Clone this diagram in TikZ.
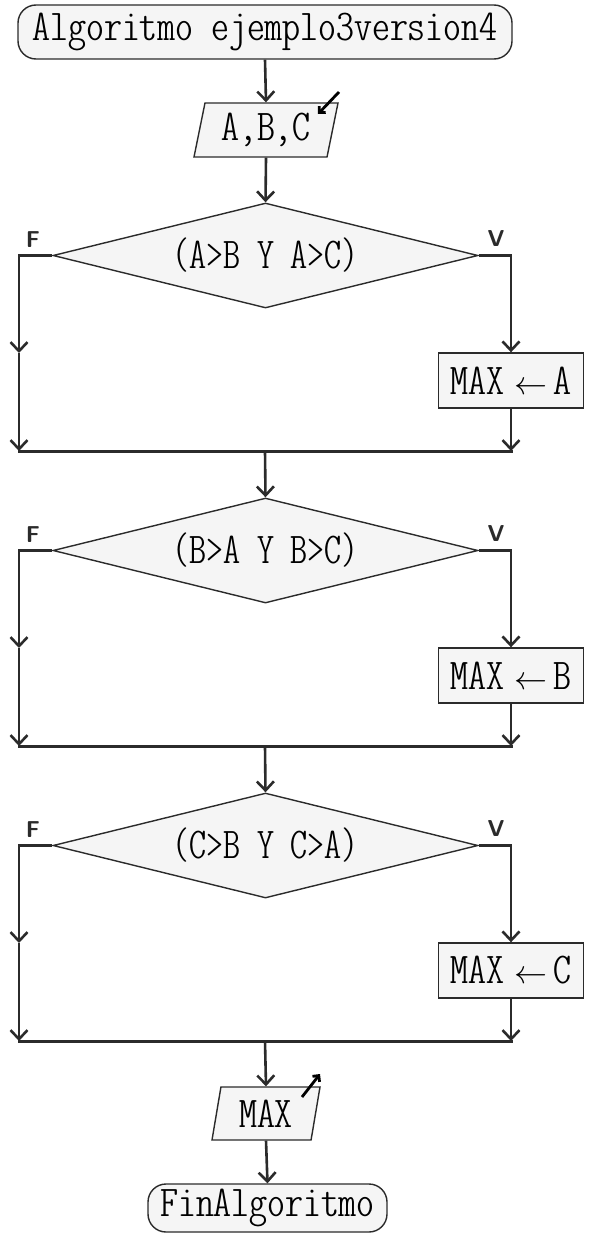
\documentclass[tikz,border=0pt]{standalone}
\usepackage{graphicx}
\usetikzlibrary{arrows.meta,shapes.geometric}
\definecolor{lncol}{HTML}{2B2B2B}
\definecolor{flcol}{HTML}{F5F5F5}
\newcommand{\sxa}[1]{\scalebox{1.16}[1]{#1}}
\newcommand{\sxb}[1]{\scalebox{1.10}[1]{#1}}
\newcommand{\larr}{\resizebox{33pt}{!}{$\leftarrow$}}
\begin{document}
\begin{tikzpicture}[x=1pt,y=-1pt,
  txt/.style={font=\ttfamily\fontseries{lc}\fontsize{44}{50}\selectfont, text=black},
  term/.style={txt, draw=lncol, fill=flcol, line width=1.4pt, rounded corners=18pt, inner sep=0pt},
  io/.style={txt, draw=lncol, fill=flcol, line width=1.4pt, trapezium, trapezium left angle=72, trapezium right angle=108, trapezium stretches body, inner sep=0pt},
  dec/.style={txt, draw=lncol, fill=flcol, line width=1.4pt, diamond, aspect=4, minimum width=425pt, minimum height=105pt, inner sep=0pt},
  proc/.style={txt, draw=lncol, fill=flcol, line width=1.4pt, rectangle, minimum width=145pt, minimum height=55pt, inner sep=0pt},
  lab/.style={font=\sffamily\bfseries\fontsize{23}{27}\selectfont, text=lncol, inner sep=0pt},
  arr/.style={draw=lncol, line width=2.6pt, -{Straight Barb[length=9pt,width=17pt]}},
  merge/.style={draw=lncol, line width=3pt, line cap=rect},
  ioarr/.style={draw=black, line width=2.8pt, -{Straight Barb[length=4.5pt,width=9pt]}}
]
\useasboundingbox (0,0) rectangle (590,1236);

\node[term, minimum width=494pt, minimum height=54pt] (start) at (265,32) {\sxa{Algoritmo ejemplo3version4}};
\node[io, minimum width=144pt, minimum height=54pt] (abc) at (266,130) {\sxa{A,B,C}};
\coordinate (inA) at (339,92);
\coordinate (inB) at (318,114);
\draw[ioarr] (inA) -- (inB);
\draw[arr] (start.south) -- (abc.north);

\foreach \k/\cond/\var [evaluate=\k as \dy using 295*(\k-1)] in {1/{(A>B Y A>C)}/A, 2/{(B>A Y B>C)}/B, 3/{(C>B Y C>A)}/C} {
  \node[dec] (d\k) at (265.5,{255.5+\dy}) {\sxb{\cond}};
  \node[proc] (p\k) at (511,{380.5+\dy}) {\sxa{MAX}\hskip10pt\larr\hskip6pt\sxa{\var}};
  \coordinate (lt\k) at (19,{255.5+\dy});
  \coordinate (lm\k) at (19,{353+\dy});
  \coordinate (lb\k) at (19,{451+\dy});
  \coordinate (rt\k) at (511,{255.5+\dy});
  \coordinate (rb\k) at (511,{451+\dy});
  \coordinate (m\k) at (265,{451+\dy});
  \node[lab] (f\k) at (33,{240+\dy}) {F};
  \node[lab] (v\k) at (496,{239+\dy}) {V};
  \draw[arr] (d\k.west) -- (lt\k) -- (lm\k);
  \draw[arr] (lm\k) -- (lb\k);
  \draw[arr] (d\k.east) -- (rt\k) -- (p\k.north);
  \draw[arr] (p\k.south) -- (rb\k);
  \draw[merge] (lb\k) -- (rb\k);
}
\draw[arr] (abc.south) -- (d1.north);
\draw[arr] (m1) -- (d2.north);
\draw[arr] (m2) -- (d3.north);

\node[io, minimum width=108pt, minimum height=53pt] (out) at (266,1113.5) {\sxa{MAX}};
\coordinate (outA) at (302,1097);
\coordinate (outB) at (320,1074);
\draw[ioarr] (outA) -- (outB);
\draw[arr] (m3) -- (out.north);
\node[term, minimum width=239pt, minimum height=48pt] (fin) at (267.5,1208) {\sxa{FinAlgoritmo}};
\draw[arr] (out.south) -- (fin.north);
\end{tikzpicture}
\end{document}
